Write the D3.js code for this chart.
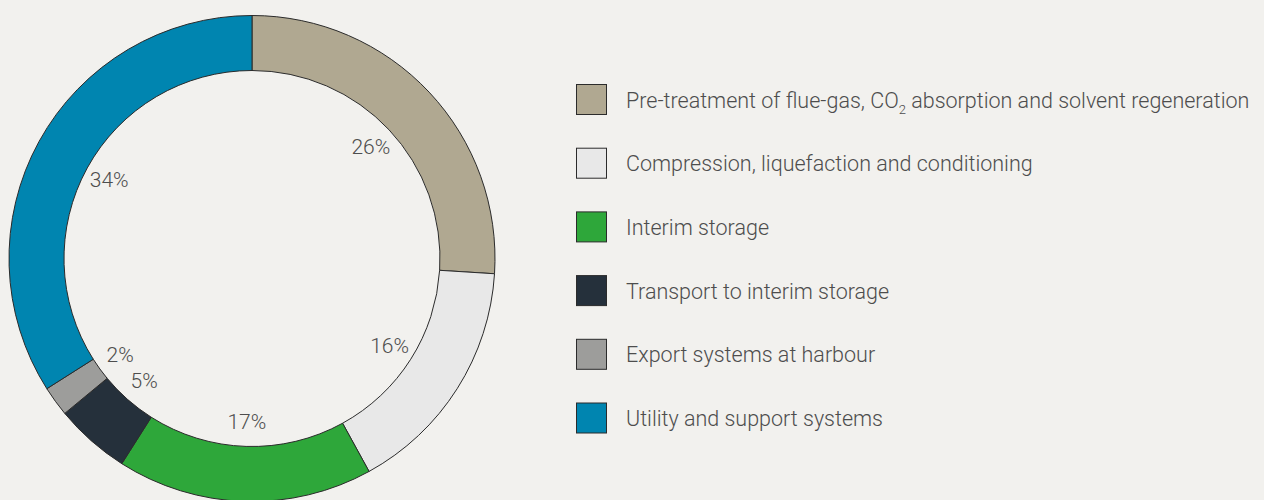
<!DOCTYPE html>
<html lang="en">
<head>
<meta charset="UTF-8">
<title>Cost breakdown</title>
<style>
  html, body { margin: 0; padding: 0; background: #f2f1ee; }
  svg { display: block; }
  text { font-family: Roboto, "Noto Sans", sans-serif; font-weight: 300; fill: #4d4d4d; }
</style>
</head>
<body>
<svg id="chart" width="1264" height="500"></svg>
<script src="https://d3js.org/d3.v7.min.js"></script>
<script>
// data
var categories = [
  "Pre-treatment of flue-gas, CO2 absorption and solvent regeneration",
  "Compression, liquefaction and conditioning",
  "Interim storage",
  "Transport to interim storage",
  "Export systems at harbour",
  "Utility and support systems"
];
var shares = [26, 16, 17, 5, 2, 34];
var colours = ["#b0a891", "#e8e8e8", "#2ea73a", "#25303b", "#9d9d9b", "#0085b0"];

var svg = d3.select("#chart"),
    cx = 252, cy = 258.5,
    outerR = 243, innerR = 188, labelR = 163;

var data = categories.map((c, i) => ({ name: c, value: shares[i], colour: colours[i] }));

var pie = d3.pie().value(d => d.value).sort(null);
var arc = d3.arc().innerRadius(innerR).outerRadius(outerR);
var labelArc = d3.arc().innerRadius(labelR).outerRadius(labelR);

var g = svg.append("g").attr("transform", `translate(${cx},${cy})`);
var arcs = pie(data);

g.selectAll("path")
  .data(arcs)
  .enter().append("path")
    .attr("d", arc)
    .attr("fill", d => d.data.colour)
    .attr("stroke", "#2b2b2b")
    .attr("stroke-width", 1);

g.selectAll("text.pct")
  .data(arcs)
  .enter().append("text")
    .attr("class", "pct")
    .attr("transform", d => `translate(${labelArc.centroid(d)})`)
    .attr("text-anchor", "middle")
    .attr("dy", "0.35em")
    .style("font-size", "21px")
    .text(d => d.data.value + "%");

// legend
var legend = svg.append("g").attr("transform", "translate(576,84)");
var rowH = 63.7;
var items = legend.selectAll("g")
  .data(data)
  .enter().append("g")
    .attr("transform", (d, i) => `translate(0,${i * rowH})`);

items.append("rect")
  .attr("x", 0.5).attr("y", 0.5)
  .attr("width", 30).attr("height", 30)
  .attr("fill", d => d.colour)
  .attr("stroke", "#2b2b2b")
  .attr("stroke-width", 1);

items.append("text")
  .attr("x", 50)
  .attr("y", 16)
  .attr("dy", "0.35em")
  .style("font-size", "21.5px")
  .each(function(d) {
    var t = d3.select(this);
    var parts = d.name.split("CO2");
    if (parts.length === 1) { t.text(d.name); return; }
    t.append("tspan").text(parts[0] + "CO");
    t.append("tspan").attr("dy", 6).style("font-size", "13px").text("2");
    t.append("tspan").attr("dy", -6).text(parts[1]);
  });
</script>
</body>
</html>
